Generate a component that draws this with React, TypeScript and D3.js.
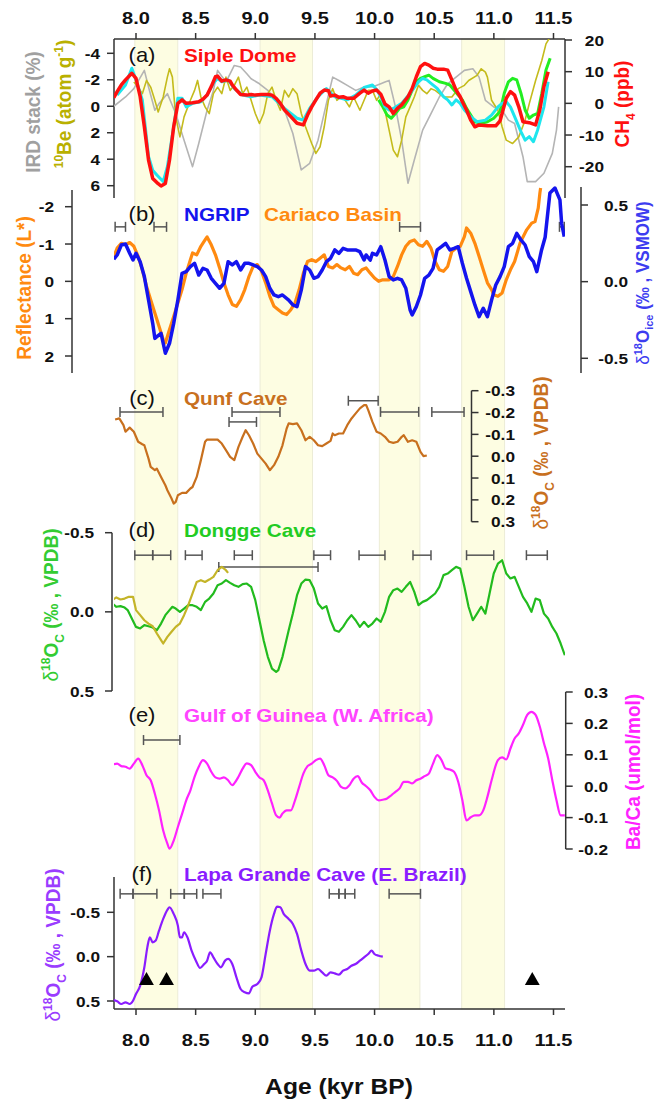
import React from "react";
import * as d3 from "d3";

// ---- data (age in kyr BP, value in panel units) ----
const topTicks = [8.0, 8.5, 9.0, 9.5, 10.0, 10.5, 11.0, 11.5];
const bands = [[7.99, 8.35], [9.04, 9.48], [10.04, 10.38], [10.73, 11.09]];

// (a) CH4 ppb anomalies
const sipleCH4 = [[7.814,1.8],[7.842,3.7],[7.877,5.8],[7.912,7.4],[7.965,9.5],[8.0,7.9],[8.035,2.1],[8.07,-7.4],[8.105,-17.9],[8.14,-23.7],[8.175,-25.0],[8.21,-26.1],[8.246,-25.3],[8.281,-17.9],[8.316,-7.4],[8.351,0],[8.386,1.1],[8.421,0],[8.474,0.2],[8.526,0.5],[8.561,1.3],[8.596,2.6],[8.631,5.3],[8.666,8.4],[8.684,8.6],[8.719,7.0],[8.754,7.4],[8.789,7.0],[8.807,5.8],[8.842,4.2],[8.877,2.8],[8.929,2.6],[8.965,2.8],[9.0,2.6],[9.052,2.8],[9.105,2.8],[9.14,2.6],[9.175,1.6],[9.21,0],[9.245,-2.1],[9.298,-4.2],[9.35,-6.3],[9.403,-6.8],[9.438,-3.7],[9.473,-1.1],[9.508,1.1],[9.543,3.2],[9.578,4.2],[9.613,4.0],[9.631,2.3],[9.666,2.6],[9.701,1.9],[9.736,2.1],[9.771,1.6],[9.824,1.6],[9.877,3.2],[9.912,4.2],[9.947,3.2],[9.982,3.9],[10.017,4.2],[10.052,2.9],[10.087,-0.2],[10.122,-1.1],[10.157,-3.2],[10.192,-1.6],[10.227,-0.5],[10.28,2.1],[10.315,4.7],[10.35,8.4],[10.385,11.6],[10.42,12.6],[10.455,12.1],[10.49,11.1],[10.525,10.8],[10.578,10.8],[10.613,10.5],[10.648,7.4],[10.683,4.2],[10.718,2.1],[10.736,0.5],[10.771,-2.1],[10.806,-5.3],[10.841,-7.4],[10.876,-6.8],[10.946,-7.1],[11.016,-7.1],[11.052,-5.5],[11.069,-3.2],[11.104,1.6],[11.139,3.7],[11.174,2.6],[11.209,-1.1],[11.244,-5.8],[11.297,-6.1],[11.35,-6.8],[11.385,-2.1],[11.42,5.3],[11.455,10.0]];
const greenCH4 = [[10.034,1.1],[10.069,-1.1],[10.105,-3.7],[10.14,-4.7],[10.175,-3.2],[10.21,-1.6],[10.245,-1.1],[10.28,1.1],[10.315,4.2],[10.35,6.8],[10.385,7.9],[10.42,8.4],[10.455,8.9],[10.49,7.9],[10.543,6.8],[10.596,6.3],[10.631,5.8],[10.666,4.2],[10.701,2.6],[10.736,1.1],[10.771,-1.6],[10.806,-3.7],[10.841,-5.8],[10.894,-6.3],[10.946,-5.8],[10.999,-4.7],[11.052,-2.6],[11.087,3.2],[11.122,6.8],[11.157,7.9],[11.192,7.4],[11.227,3.2],[11.262,-2.1],[11.297,-4.7],[11.332,-3.7],[11.367,-3.2],[11.402,3.2],[11.437,10.5],[11.472,14.2]];
const cyanCH4 = [[7.842,2.6],[7.912,5.8],[7.965,11.1],[8.0,7.4],[8.053,1.1],[8.105,-16.8],[8.14,-21.1],[8.175,-22.6],[8.228,-24.7],[8.263,-20.0],[8.316,-7.4],[8.351,1.6],[8.386,1.6],[8.421,-1.1],[8.474,0],[8.544,0.5],[8.596,2.6],[8.649,6.3],[8.684,7.9],[8.719,6.8],[8.772,7.4],[8.824,4.7],[8.894,2.6],[8.965,2.1],[9.035,2.6],[9.14,2.1],[9.245,-1.6],[9.35,-4.7],[9.403,-5.3],[9.456,-1.6],[9.526,2.1],[9.596,4.7],[9.666,2.1],[9.771,1.1],[9.842,2.6],[9.912,5.0],[9.982,5.8],[10.017,4.4],[10.052,2.1],[10.087,-1.1],[10.122,-2.1],[10.157,-1.6],[10.227,0],[10.298,3.2],[10.368,6.8],[10.403,7.9],[10.438,7.4],[10.473,6.3],[10.525,4.7],[10.578,2.1],[10.613,1.1],[10.648,-0.5],[10.683,1.1],[10.718,0],[10.753,-2.1],[10.806,-4.2],[10.859,-5.8],[10.929,-5.3],[10.981,-3.7],[11.034,-1.1],[11.069,0],[11.104,0.5],[11.139,-1.1],[11.174,-4.2],[11.227,-8.9],[11.262,-11.6],[11.297,-10.5],[11.332,-12.1],[11.367,-8.4],[11.42,-1.1],[11.455,6.8]];
// (a) IRD stack (%) and 10Be, left axis
const irdStack = [[7.814,0],[7.912,-0.7],[7.982,-1.33],[8.07,-2.71],[8.105,-1.45],[8.158,0.3],[8.193,-0.2],[8.263,-0.95],[8.333,0.55],[8.403,2.56],[8.474,4.56],[8.526,2.81],[8.596,0.3],[8.649,-1.2],[8.684,-2.71],[8.754,-1.83],[8.824,-3.08],[8.877,-2.96],[8.929,-2.46],[8.965,-2.08],[9.035,-1.7],[9.105,-1.2],[9.175,-0.45],[9.245,0.3],[9.315,2.06],[9.385,4.81],[9.456,4.31],[9.526,2.56],[9.596,-0.2],[9.649,-2.2],[9.701,-1.95],[9.771,-1.58],[9.842,-1.2],[9.912,-1.45],[9.982,-1.45],[10.052,-1.7],[10.087,-1.83],[10.122,-1.95],[10.175,0.05],[10.227,2.56],[10.28,5.81],[10.333,4.06],[10.403,1.8],[10.473,0.55],[10.543,-0.7],[10.613,-1.7],[10.683,-2.2],[10.753,-2.71],[10.824,-2.83],[10.876,-2.2],[10.929,-0.45],[10.999,0.05],[11.069,0.3],[11.122,1.05],[11.174,1.3],[11.244,3.81],[11.28,5.69],[11.35,5.69],[11.42,5.06],[11.49,3.56],[11.525,1.8],[11.543,0.05]];
const be10 = [[7.982,-1.83],[8.018,-1.45],[8.053,-0.95],[8.088,-1.95],[8.123,-1.45],[8.158,-0.45],[8.186,0.43],[8.228,-0.7],[8.263,-2.2],[8.281,-2.83],[8.305,-2.2],[8.333,0.8],[8.368,2.31],[8.403,0.8],[8.456,-0.45],[8.491,-1.2],[8.516,-1.95],[8.544,-0.7],[8.579,0.05],[8.614,0.55],[8.649,-0.95],[8.684,-1.45],[8.719,-0.95],[8.754,-2.2],[8.789,-1.2],[8.824,-1.58],[8.859,-2.2],[8.894,-0.95],[8.929,-1.45],[8.965,-0.45],[9.0,0.55],[9.035,1.3],[9.07,0.55],[9.105,-0.95],[9.14,-1.45],[9.175,-0.45],[9.21,0.3],[9.245,-1.2],[9.28,-0.7],[9.315,-1.33],[9.35,-0.95],[9.386,0.55],[9.421,1.55],[9.473,2.81],[9.508,3.56],[9.543,3.06],[9.578,1.55],[9.613,-0.45],[9.649,-1.33],[9.684,-0.45],[9.719,-0.7],[9.754,-0.45],[9.789,0.05],[9.824,-0.7],[9.877,0.3],[9.912,-0.45],[9.947,-1.2],[9.982,-1.2],[10.017,-0.45],[10.052,-0.95],[10.087,0.3],[10.122,1.8],[10.157,3.31],[10.192,3.81],[10.227,2.56],[10.262,0.8],[10.298,0.05],[10.333,-0.7],[10.368,-1.58],[10.403,-1.2],[10.438,-0.95],[10.473,-1.33],[10.508,-1.2],[10.578,-0.7],[10.648,-0.7],[10.701,-1.33],[10.753,-1.58],[10.789,-1.95],[10.859,-2.33],[10.894,-2.83],[10.929,-2.58],[10.946,-2.2],[10.981,-0.45],[11.034,0.3],[11.069,1.55],[11.104,2.56],[11.157,2.81],[11.209,2.31],[11.262,1.05],[11.297,-0.2],[11.35,-1.95],[11.402,-3.46],[11.437,-4.71],[11.483,-5.4]];

// (b) Cariaco reflectance (L*) and NGRIP d18O ice
const cariaco = [[7.814,-0.67],[7.842,-0.89],[7.877,-1.02],[7.912,-0.98],[7.947,-1.04],[7.982,-0.94],[8.018,-0.67],[8.053,-0.31],[8.088,0.13],[8.123,0.49],[8.158,0.85],[8.193,1.2],[8.228,1.56],[8.246,1.65],[8.281,1.29],[8.316,0.94],[8.351,0.58],[8.386,0.22],[8.421,-0.22],[8.456,-0.58],[8.474,-0.76],[8.509,-0.71],[8.544,-0.94],[8.579,-1.11],[8.596,-1.19],[8.631,-0.98],[8.666,-0.71],[8.701,-0.36],[8.737,0.04],[8.772,0.36],[8.807,0.62],[8.842,0.67],[8.877,0.49],[8.912,0.22],[8.947,-0.13],[8.982,-0.4],[9.017,-0.45],[9.052,-0.27],[9.087,0.04],[9.122,0.4],[9.157,0.67],[9.193,0.76],[9.228,0.85],[9.263,0.89],[9.298,0.76],[9.333,0.58],[9.368,0.22],[9.403,-0.22],[9.438,-0.53],[9.473,-0.58],[9.508,-0.53],[9.543,-0.62],[9.578,-0.71],[9.613,-0.4],[9.649,-0.36],[9.684,-0.45],[9.719,-0.36],[9.754,-0.31],[9.789,-0.4],[9.824,-0.22],[9.859,-0.18],[9.894,-0.31],[9.929,-0.36],[9.964,-0.22],[9.999,-0.09],[10.034,0],[10.069,-0.04],[10.122,-0.04],[10.157,-0.13],[10.192,-0.4],[10.227,-0.71],[10.262,-0.94],[10.298,-1.07],[10.333,-1.11],[10.368,-0.98],[10.403,-0.94],[10.438,-1.07],[10.473,-0.89],[10.508,-0.53],[10.543,-0.31],[10.578,-0.27],[10.613,-0.4],[10.648,-0.8],[10.683,-0.89],[10.718,-0.94],[10.753,-1.2],[10.771,-1.43],[10.806,-1.29],[10.841,-1.02],[10.876,-0.67],[10.911,-0.31],[10.946,0.04],[10.981,0.22],[10.999,0.36],[11.034,0.4],[11.069,0.31],[11.104,-0.04],[11.139,-0.31],[11.174,-0.53],[11.22,-1.03],[11.275,-1.38],[11.317,-1.56],[11.345,-1.6],[11.372,-1.96],[11.386,-2.37],[11.392,-2.5]];
const ngrip = [[7.814,0.146],[7.842,0.174],[7.877,0.239],[7.912,0.246],[7.947,0.185],[7.975,0.141],[8.0,0.185],[8.035,0.13],[8.07,0.033],[8.105,-0.12],[8.14,-0.272],[8.158,-0.37],[8.175,-0.359],[8.21,-0.337],[8.246,-0.467],[8.281,-0.402],[8.316,-0.272],[8.351,-0.12],[8.386,0.054],[8.421,0.065],[8.456,0.098],[8.491,0.12],[8.526,0.043],[8.561,0.087],[8.596,0.076],[8.631,0.022],[8.666,-0.011],[8.701,-0.043],[8.737,-0.011],[8.772,0.13],[8.807,0.109],[8.842,0.13],[8.877,0.076],[8.912,0.12],[8.947,0.12],[8.982,0.109],[9.017,0.098],[9.052,0.076],[9.087,0.033],[9.122,-0.043],[9.157,-0.087],[9.193,-0.098],[9.228,-0.087],[9.28,-0.12],[9.315,-0.152],[9.35,-0.163],[9.386,-0.054],[9.421,0.098],[9.456,0.076],[9.491,0.022],[9.526,0.033],[9.561,0.076],[9.596,0.13],[9.631,0.152],[9.666,0.207],[9.701,0.185],[9.736,0.217],[9.771,0.207],[9.806,0.207],[9.841,0.207],[9.876,0.196],[9.912,0.141],[9.929,0.174],[9.964,0.141],[9.982,0.185],[10.017,0.174],[10.052,0.228],[10.087,0.141],[10.122,0.033],[10.157,0.011],[10.192,0.022],[10.227,0.011],[10.262,-0.043],[10.298,-0.185],[10.315,-0.217],[10.35,-0.163],[10.385,-0.087],[10.42,0.022],[10.455,0.043],[10.49,0.087],[10.525,0.207],[10.561,0.228],[10.596,0.25],[10.631,0.207],[10.666,0.217],[10.701,0.228],[10.736,0.12],[10.771,0.022],[10.806,-0.065],[10.841,-0.152],[10.876,-0.228],[10.911,-0.174],[10.946,-0.228],[10.981,-0.12],[11.016,-0.022],[11.052,0.033],[11.087,0.098],[11.122,0.228],[11.157,0.25],[11.192,0.315],[11.227,0.272],[11.262,0.239],[11.297,0.163],[11.332,0.13],[11.36,0.065],[11.4,0.207],[11.43,0.29],[11.47,0.578],[11.512,0.611],[11.554,0.533],[11.568,0.381],[11.59,0.294]];

// (c) Qunf Cave d18O
const qunf = [[7.825,-0.168],[7.86,-0.173],[7.895,-0.142],[7.912,-0.112],[7.947,-0.131],[7.982,-0.112],[8.018,-0.066],[8.053,-0.055],[8.07,-0.05],[8.105,0.011],[8.123,0.049],[8.158,0.064],[8.175,0.057],[8.21,0.095],[8.246,0.133],[8.263,0.156],[8.298,0.194],[8.316,0.217],[8.333,0.209],[8.351,0.179],[8.386,0.168],[8.421,0.168],[8.456,0.148],[8.474,0.141],[8.509,0.095],[8.544,0.018],[8.579,-0.066],[8.596,-0.076],[8.684,-0.076],[8.719,-0.058],[8.754,-0.028],[8.789,0.003],[8.824,0.018],[8.859,-0.043],[8.894,-0.089],[8.919,-0.119],[8.947,-0.096],[8.982,-0.058],[9.017,-0.012],[9.052,0.011],[9.087,0.034],[9.122,0.064],[9.157,0.041],[9.193,0.003],[9.228,-0.05],[9.263,-0.127],[9.28,-0.15],[9.315,-0.147],[9.35,-0.15],[9.386,-0.119],[9.421,-0.073],[9.456,-0.089],[9.491,-0.073],[9.526,-0.05],[9.561,-0.046],[9.596,-0.058],[9.631,-0.07],[9.649,-0.104],[9.666,-0.096],[9.701,-0.104],[9.736,-0.104],[9.771,-0.142],[9.807,-0.173],[9.842,-0.196],[9.877,-0.219],[9.912,-0.234],[9.93,-0.234],[9.947,-0.211],[9.982,-0.157],[10.017,-0.112],[10.052,-0.104],[10.087,-0.089],[10.122,-0.066],[10.157,-0.061],[10.193,-0.066],[10.228,-0.089],[10.245,-0.096],[10.28,-0.066],[10.315,-0.073],[10.35,-0.066],[10.385,-0.02],[10.41,0],[10.438,-0.003]];

// (d) Dongge Cave d18O (two stalagmites)
const dongge = [[7.8,-0.053],[7.835,-0.032],[7.87,-0.036],[7.905,-0.027],[7.93,-0.011],[7.965,0.042],[8.0,0.095],[8.035,0.105],[8.07,0.084],[8.105,0.091],[8.14,0.099],[8.175,0.116],[8.21,0.074],[8.246,0.021],[8.281,-0.011],[8.305,-0.032],[8.333,-0.021],[8.368,0],[8.403,-0.021],[8.438,-0.042],[8.474,-0.042],[8.509,-0.032],[8.544,-0.011],[8.579,-0.063],[8.614,-0.084],[8.649,-0.116],[8.684,-0.168],[8.719,-0.179],[8.754,-0.2],[8.789,-0.183],[8.824,-0.168],[8.859,-0.158],[8.894,-0.175],[8.929,-0.179],[8.965,-0.158],[9.0,-0.074],[9.035,0.053],[9.07,0.179],[9.105,0.284],[9.14,0.358],[9.175,0.379],[9.193,0.368],[9.228,0.284],[9.28,0.116],[9.315,0.011],[9.35,-0.105],[9.386,-0.179],[9.421,-0.204],[9.456,-0.2],[9.491,-0.147],[9.526,-0.053],[9.561,-0.021],[9.596,-0.036],[9.631,0.053],[9.666,0.116],[9.701,0.126],[9.736,0.095],[9.771,0.053],[9.806,0.021],[9.841,0.053],[9.877,0.095],[9.912,0.063],[9.947,0.095],[9.982,0.074],[10.017,0.042],[10.052,0.063],[10.087,0],[10.122,-0.095],[10.157,-0.137],[10.192,-0.147],[10.227,-0.126],[10.262,-0.158],[10.298,-0.189],[10.333,-0.126],[10.368,-0.042],[10.403,-0.063],[10.438,-0.074],[10.473,-0.095],[10.508,-0.116],[10.543,-0.158],[10.578,-0.232],[10.613,-0.242],[10.648,-0.263],[10.683,-0.284],[10.718,-0.274],[10.753,-0.158],[10.788,-0.032],[10.824,0.053],[10.859,0.011],[10.894,-0.032],[10.929,0.011],[10.964,-0.116],[10.999,-0.242],[11.034,-0.305],[11.069,-0.326],[11.104,-0.242],[11.139,-0.211],[11.174,-0.221],[11.209,-0.158],[11.244,-0.095],[11.28,-0.053],[11.315,0],[11.35,-0.084],[11.385,-0.074],[11.42,0.011],[11.455,0.042],[11.49,0.095],[11.525,0.137],[11.56,0.2],[11.595,0.274]];
const donggeB = [[7.8,-0.074],[7.835,-0.091],[7.87,-0.078],[7.905,-0.084],[7.94,-0.095],[7.975,-0.095],[8.0,-0.011],[8.035,0.021],[8.07,0.053],[8.105,0.074],[8.14,0.091],[8.175,0.137],[8.21,0.179],[8.228,0.2],[8.263,0.158],[8.298,0.126],[8.333,0.095],[8.368,0.074],[8.403,0.021],[8.438,-0.042],[8.474,-0.116],[8.509,-0.189],[8.544,-0.2],[8.579,-0.189],[8.614,-0.204],[8.649,-0.221],[8.684,-0.263],[8.719,-0.284],[8.754,-0.263],[8.772,-0.246]];

// (e) Gulf of Guinea Ba/Ca
const guinea = [[7.814,0.07],[7.842,0.072],[7.877,0.064],[7.912,0.062],[7.947,0.056],[7.982,0.072],[8.018,0.088],[8.053,0.067],[8.088,0.035],[8.123,0.019],[8.158,-0.024],[8.193,-0.077],[8.228,-0.141],[8.263,-0.183],[8.281,-0.199],[8.316,-0.173],[8.351,-0.13],[8.386,-0.088],[8.421,-0.045],[8.456,-0.013],[8.491,0.03],[8.526,0.062],[8.561,0.083],[8.596,0.072],[8.631,0.046],[8.666,0.028],[8.701,0.024],[8.737,0.028],[8.772,0.019],[8.807,0.003],[8.824,0.009],[8.859,0.03],[8.894,0.056],[8.929,0.073],[8.965,0.067],[9.0,0.046],[9.035,0.028],[9.07,0.019],[9.105,-0.013],[9.14,-0.055],[9.175,-0.093],[9.203,-0.1],[9.228,-0.087],[9.263,-0.077],[9.298,-0.077],[9.333,-0.045],[9.368,-0.002],[9.403,0.04],[9.438,0.064],[9.473,0.072],[9.508,0.083],[9.543,0.088],[9.578,0.067],[9.613,0.035],[9.649,0.028],[9.684,0.017],[9.719,-0.002],[9.754,-0.007],[9.789,0.003],[9.824,0.024],[9.859,0.032],[9.894,0.011],[9.929,0],[9.964,-0.013],[9.999,-0.034],[10.034,-0.045],[10.069,-0.043],[10.105,-0.039],[10.14,-0.029],[10.175,-0.018],[10.21,-0.007],[10.245,0.014],[10.28,0.014],[10.315,0.009],[10.35,0.019],[10.385,0.024],[10.42,0.032],[10.455,0.04],[10.49,0.072],[10.525,0.099],[10.561,0.083],[10.596,0.056],[10.631,0.053],[10.666,0.046],[10.701,0.014],[10.736,-0.045],[10.771,-0.109],[10.806,-0.099],[10.841,-0.093],[10.876,-0.093],[10.911,-0.077],[10.946,-0.034],[10.981,0.019],[11.034,0.083],[11.069,0.092],[11.104,0.085],[11.139,0.12],[11.174,0.152],[11.209,0.168],[11.244,0.195],[11.28,0.227],[11.315,0.237],[11.35,0.227],[11.385,0.19],[11.42,0.137],[11.455,0.089],[11.49,0.019],[11.525,-0.045],[11.56,-0.093],[11.595,-0.093]];

// (f) Lapa Grande Cave d18O
const lapa = [[7.814,0.489],[7.842,0.504],[7.877,0.534],[7.912,0.515],[7.947,0.534],[7.975,0.497],[8.0,0.421],[8.035,0.327],[8.07,0.12],[8.095,-0.105],[8.116,-0.218],[8.14,-0.162],[8.165,-0.181],[8.193,-0.293],[8.228,-0.425],[8.263,-0.527],[8.281,-0.557],[8.316,-0.482],[8.351,-0.35],[8.368,-0.218],[8.386,-0.218],[8.403,-0.275],[8.431,-0.218],[8.466,-0.068],[8.502,0.045],[8.537,0.128],[8.572,0.083],[8.596,0.045],[8.621,-0.049],[8.649,0.008],[8.684,0.083],[8.712,0.12],[8.747,0.045],[8.772,0.026],[8.807,0.083],[8.842,0.233],[8.877,0.365],[8.912,0.402],[8.947,0.414],[8.975,0.339],[9.017,0.309],[9.052,0.233],[9.087,-0.03],[9.122,-0.293],[9.157,-0.482],[9.182,-0.564],[9.21,-0.557],[9.238,-0.482],[9.28,-0.425],[9.315,-0.369],[9.35,-0.256],[9.386,-0.068],[9.421,0.083],[9.456,0.158],[9.491,0.158],[9.526,0.139],[9.561,0.177],[9.596,0.214],[9.631,0.177],[9.666,0.188],[9.701,0.203],[9.736,0.158],[9.771,0.139],[9.806,0.102],[9.841,0.083],[9.877,0.045],[9.912,0.008],[9.947,-0.03],[9.975,-0.068],[9.999,-0.03],[10.034,-0.011],[10.069,0]];
const lapaTriangles = [8.088, 8.256, 11.322];

// age error bars: [from, to, level in panel units]
const errB = [[7.825, 7.912, -1.46], [8.151, 8.256, -1.46], [10.21, 10.385, -1.46], [11.55, 11.59, -1.46]];
const errC = [[7.866, 8.226, -0.203], [8.805, 9.207, -0.203], [8.78, 9.01, -0.157], [9.78, 10.03, -0.254], [10.05, 10.37, -0.203], [10.48, 10.75, -0.203]];
const errD = [[7.99, 8.14, -0.358], [8.14, 8.291, -0.358], [8.414, 8.554, -0.358], [8.824, 8.975, -0.358], [9.491, 9.631, -0.358], [9.87, 10.087, -0.358], [10.322, 10.473, -0.358], [10.771, 10.999, -0.358], [11.273, 11.448, -0.358], [8.694, 9.526, -0.284]];
const errE = [[8.063, 8.368, 0.147]];
const errF = [[7.867, 7.975, -0.708], [7.975, 8.175, -0.708], [8.291, 8.405, -0.708], [8.405, 8.509, -0.708], [8.561, 8.712, -0.708], [9.62, 9.701, -0.708], [9.701, 9.754, -0.708], [9.754, 9.834, -0.708], [10.122, 10.385, -0.708]];

const ticksAL = [-4, -2, 0, 2, 4, 6];
const ticksAR = [20, 10, 0, -10, -20];
const ticksBL = [-2, -1, 0, 1, 2];
const ticksBR = [0.5, 0, -0.5];
const ticksC = [-0.3, -0.2, -0.1, 0, 0.1, 0.2, 0.3];
const ticksD = [-0.5, 0, 0.5];
const ticksE = [0.3, 0.2, 0.1, 0, -0.1, -0.2];
const ticksF = [-0.5, 0, 0.5];

const FONT = "'Liberation Sans', Arial, Helvetica, sans-serif";
const AX = "#333";

const x = d3.scaleLinear().domain([8, 11.5]).range([136, 553.5]);
const X0 = 114, X1 = 565;

const yAL = d3.scaleLinear().domain([-4, 6]).range([53.3, 185.7]);
const yAR = d3.scaleLinear().domain([20, -20]).range([40, 166.7]);
const yBL = d3.scaleLinear().domain([-2, 2]).range([206.7, 356]);
const yBR = d3.scaleLinear().domain([0.5, -0.5]).range([205, 358.3]);
const yC = d3.scaleLinear().domain([-0.3, 0.3]).range([390.7, 521.7]);
const yD = d3.scaleLinear().domain([-0.5, 0.5]).range([532.7, 691]);
const yE = d3.scaleLinear().domain([0.3, -0.2]).range([692, 849]);
const yF = d3.scaleLinear().domain([-0.5, 0.5]).range([912.3, 1001]);

function path(data, ys, curve = d3.curveLinear) {
  return d3.line().x((d) => x(d[0])).y((d) => ys(d[1])).curve(curve)(data);
}

function T({ x, y, children, size = 16, fill = "#111", anchor = "middle", weight = "bold", rot = false, sx = 1.15 }) {
  const tr = rot
    ? `translate(${x},${y}) rotate(-90) scale(1,${sx})`
    : `translate(${x},${y}) scale(${sx},1)`;
  return (
    <text transform={tr} fontSize={size} fill={fill} textAnchor={anchor} fontWeight={weight} fontFamily={FONT}>
      {children}
    </text>
  );
}

function VAxis({ scale, ticks, ax, y0, y1, side, labelX, fmt }) {
  const dir = side === "left" ? -1 : 1;
  return (
    <g>
      <line x1={ax} x2={ax} y1={y0} y2={y1} stroke={AX} strokeWidth={1.5} />
      {ticks.map((t) => (
        <g key={t}>
          <line x1={ax} x2={ax + dir * 7} y1={scale(t)} y2={scale(t)} stroke={AX} strokeWidth={1.5} />
          <T x={labelX} y={scale(t) + 5.5} anchor="end" size={15}>{fmt(t)}</T>
        </g>
      ))}
    </g>
  );
}

function ErrBars({ bars, ys }) {
  return (
    <g stroke="#555" strokeWidth={1.5}>
      {bars.map((b, i) => {
        const yy = ys(b[2]);
        return (
          <g key={i}>
            <line x1={x(b[0])} x2={x(b[1])} y1={yy} y2={yy} />
            <line x1={x(b[0])} x2={x(b[0])} y1={yy - 5} y2={yy + 5} />
            <line x1={x(b[1])} x2={x(b[1])} y1={yy - 5} y2={yy + 5} />
          </g>
        );
      })}
    </g>
  );
}

const f1 = (v) => (v === 0 ? "0.0" : v.toFixed(1));
const f0 = (v) => String(v);

export default function App() {
  const smooth = d3.curveMonotoneX;
  return (
    <svg width={656} height={1100} style={{ position: "absolute", left: 0, top: 0, background: "#fff" }}>
      <defs>
        <clipPath id="clipA"><rect x={X0} y={39} width={X1 - X0} height={160} /></clipPath>
        <clipPath id="clipX"><rect x={X0} y={0} width={X1 - X0} height={1100} /></clipPath>
      </defs>

      {/* shaded intervals */}
      {bands.map((b, i) => (
        <rect key={i} x={x(b[0])} y={39} width={x(b[1]) - x(b[0])} height={1009 - 39}
          fill="#fdfde2" stroke="#ececd6" strokeWidth={1} />
      ))}

      {/* top axis */}
      <line x1={X0} x2={X1} y1={39} y2={39} stroke={AX} strokeWidth={1.5} />
      {topTicks.map((t) => (
        <g key={t}>
          <line x1={x(t)} x2={x(t)} y1={39} y2={33} stroke={AX} strokeWidth={1.5} />
          <T x={x(t)} y={24} size={16} sx={1.25}>{t.toFixed(1)}</T>
        </g>
      ))}

      {/* bottom axis */}
      <line x1={X0} x2={X1} y1={1009} y2={1009} stroke={AX} strokeWidth={1.5} />
      {topTicks.map((t) => (
        <g key={t}>
          <line x1={x(t)} x2={x(t)} y1={1009} y2={1015} stroke={AX} strokeWidth={1.5} />
          <T x={x(t)} y={1046} size={16} sx={1.25}>{t.toFixed(1)}</T>
        </g>
      ))}
      <T x={339} y={1094} size={22} sx={1.12}>Age (kyr BP)</T>

      {/* (a) */}
      <VAxis scale={yAL} ticks={ticksAL} ax={X0} y0={39} y1={198} side="left" labelX={100} fmt={f0} />
      <VAxis scale={yAR} ticks={ticksAR} ax={X1} y0={39} y1={198} side="right" labelX={604} fmt={f0} />
      <g clipPath="url(#clipA)" fill="none" strokeLinejoin="round">
        <path d={path(irdStack, yAL)} stroke="#b4b4b4" strokeWidth={1.6} />
        <path d={path(be10, yAL)} stroke="#c4bb1c" strokeWidth={1.6} />
        <path d={path(greenCH4, yAR)} stroke="#22ee22" strokeWidth={3} />
        <path d={path(cyanCH4, yAR)} stroke="#1ee6ee" strokeWidth={3} />
        <path d={path(sipleCH4, yAR)} stroke="#ff1010" strokeWidth={3.5} />
      </g>
      <T x={142} y={62} size={20} weight="normal" sx={1.1}>(a)</T>
      <T x={184} y={62} size={18} fill="#ff1010" anchor="start" sx={1.15}>Siple Dome</T>
      <T x={40} y={112} size={19} fill="#a0a0a0" rot sx={1.1}>IRD stack (%)</T>
      <T x={71} y={104} size={19} fill="#b9b000" rot sx={1.1}>
        <tspan fontSize={12} dy={-7}>10</tspan><tspan dy={7}>Be (atom g</tspan><tspan fontSize={12} dy={-7}>-1</tspan><tspan dy={7}>)</tspan>
      </T>
      <T x={629} y={104} size={19} fill="#ff1010" rot sx={1.1}>
        CH<tspan fontSize={12} dy={5}>4</tspan><tspan dy={-5}> (ppb)</tspan>
      </T>

      {/* (b) */}
      <VAxis scale={yBL} ticks={ticksBL} ax={72} y0={190} y1={373} side="left" labelX={54} fmt={f0} />
      <VAxis scale={yBR} ticks={ticksBR} ax={581} y0={187} y1={373} side="right" labelX={628} fmt={f1} />
      <ErrBars bars={errB} ys={yBL} />
      <g clipPath="url(#clipX)" fill="none" strokeLinejoin="round">
        <path d={path(cariaco, yBL)} stroke="#ff8a10" strokeWidth={3.2} />
        <path d={path(ngrip, yBR)} stroke="#1414ee" strokeWidth={3.5} />
      </g>
      <T x={142} y={221} size={20} weight="normal" sx={1.1}>(b)</T>
      <T x={184} y={221} size={18} fill="#1414ee" anchor="start" sx={1.15}>NGRIP</T>
      <T x={264} y={221} size={18} fill="#ff8a10" anchor="start" sx={1.15}>Cariaco Basin</T>
      <T x={31} y={288} size={19} fill="#ff8a10" rot sx={1.1}>Reflectance (L*)</T>
      <T x={649} y={283} size={17} fill="#3c3cf0" rot sx={1.05}>
        <tspan fontWeight="normal">δ</tspan><tspan fontSize={11} dy={-7}>18</tspan><tspan dy={7}>O</tspan><tspan fontSize={11} dy={4}>ice</tspan><tspan dy={-4}> (‰ , VSMOW)</tspan>
      </T>

      {/* (c) */}
      <VAxis scale={yC} ticks={ticksC} ax={471.5} y0={390.7} y1={521.7} side="right" labelX={515} fmt={f1} />
      <ErrBars bars={errC} ys={yC} />
      <path d={path(qunf, yC)} fill="none" stroke="#c8701e" strokeWidth={2.2} strokeLinejoin="round" />
      <T x={142} y={405} size={20} weight="normal" sx={1.1}>(c)</T>
      <T x={184} y={405} size={18} fill="#c8701e" anchor="start" sx={1.15}>Qunf Cave</T>
      <T x={548} y={453} size={19} fill="#c8701e" rot sx={1.1}>
        <tspan fontWeight="normal">δ</tspan><tspan fontSize={12} dy={-7}>18</tspan><tspan dy={7}>O</tspan><tspan fontSize={12} dy={5}>C</tspan><tspan dy={-5}> (‰ , VPDB)</tspan>
      </T>

      {/* (d) */}
      <VAxis scale={yD} ticks={ticksD} ax={112} y0={532.7} y1={691} side="left" labelX={94} fmt={f1} />
      <ErrBars bars={errD} ys={yD} />
      <g clipPath="url(#clipX)" fill="none" strokeLinejoin="round">
        <path d={path(dongge, yD)} stroke="#22bb1e" strokeWidth={2.2} />
        <path d={path(donggeB, yD)} stroke="#c4b428" strokeWidth={2.2} />
      </g>
      <T x={142} y={537} size={20} weight="normal" sx={1.1}>(d)</T>
      <T x={184} y={537} size={18} fill="#22cc22" anchor="start" sx={1.15}>Dongge Cave</T>
      <T x={58} y={605} size={19} fill="#33cc33" rot sx={1.1}>
        <tspan fontWeight="normal">δ</tspan><tspan fontSize={12} dy={-7}>18</tspan><tspan dy={7}>O</tspan><tspan fontSize={12} dy={5}>C</tspan><tspan dy={-5}> (‰ , VPDB)</tspan>
      </T>

      {/* (e) */}
      <VAxis scale={yE} ticks={ticksE} ax={565.7} y0={692} y1={849} side="right" labelX={608} fmt={f1} />
      <ErrBars bars={errE} ys={yE} />
      <path d={path(guinea, yE, smooth)} fill="none" stroke="#ff22ff" strokeWidth={2.2} clipPath="url(#clipX)" />
      <T x={142} y={722} size={20} weight="normal" sx={1.1}>(e)</T>
      <T x={184} y={722} size={18} fill="#ff44ff" anchor="start" sx={1.15}>Gulf of Guinea (W. Africa)</T>
      <T x={640} y={772} size={19} fill="#ff22ff" rot sx={1.1}>Ba/Ca (umol/mol)</T>

      {/* (f) */}
      <VAxis scale={yF} ticks={ticksF} ax={X0} y0={877} y1={1009} side="left" labelX={100} fmt={f1} />
      <ErrBars bars={errF} ys={yF} />
      <path d={path(lapa, yF, smooth)} fill="none" stroke="#8a1cff" strokeWidth={2.2} />
      {lapaTriangles.map((t) => (
        <path key={t} d={d3.symbol(d3.symbolTriangle, 95)()} transform={`translate(${x(t)},${yF(0.27)})`} fill="#000" />
      ))}
      <T x={142} y={881} size={20} weight="normal" sx={1.1}>(f)</T>
      <T x={184} y={881} size={18} fill="#8a1cff" anchor="start" sx={1.15}>Lapa Grande Cave (E. Brazil)</T>
      <T x={60} y={945} size={19} fill="#9a3cff" rot sx={1.1}>
        <tspan fontWeight="normal">δ</tspan><tspan fontSize={12} dy={-7}>18</tspan><tspan dy={7}>O</tspan><tspan fontSize={12} dy={5}>C</tspan><tspan dy={-5}> (‰ , VPDB)</tspan>
      </T>
    </svg>
  );
}
